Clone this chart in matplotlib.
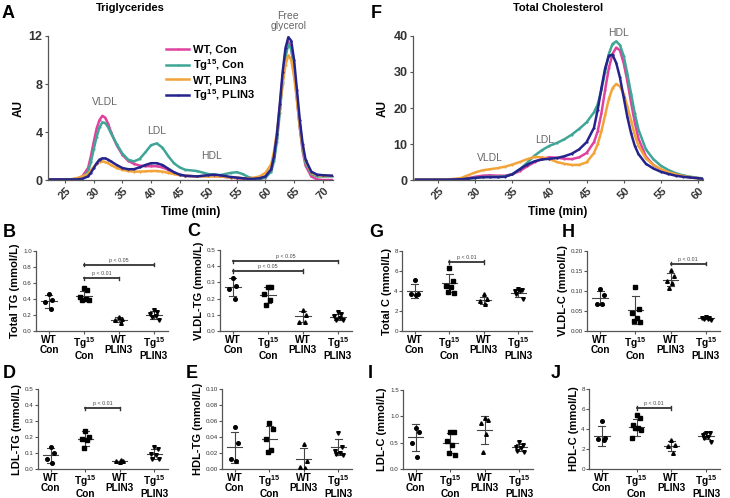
"""Multi-panel lipoprotein figure: FPLC traces (A, F) and per-group dot plots (B-E, G-J)."""

import matplotlib

matplotlib.use("Agg")
import matplotlib.pyplot as plt

plt.rcParams["font.family"] = ["Liberation Sans", "DejaVu Sans"]
plt.rcParams["mathtext.fontset"] = "custom"
plt.rcParams["mathtext.rm"] = "Liberation Sans:bold"
plt.rcParams["mathtext.bf"] = "Liberation Sans:bold"
plt.rcParams["mathtext.default"] = "bf"

# ---------------------------------------------------------------- colours
C_WT_CON = "#e0429f"
C_TG_CON = "#3fa596"
C_WT_PL = "#f2a33a"
C_TG_PL = "#25248c"
AX_GREY = "#555555"

GROUPS = ["WT, Con", "Tg$^{15}$, Con", "WT, PLIN3", "Tg$^{15}$, PLIN3"]
CAT_LABELS = ["WT\nCon", "Tg$^{15}$\nCon", "WT\nPLIN3", "Tg$^{15}$\nPLIN3"]

# ---------------------------------------------------------------- A: triglyceride FPLC
T_A = [22, 24, 26, 27, 28, 29, 29.5, 30, 30.5, 31, 31.5, 32, 32.5, 33, 34, 35, 36, 37,
       38, 39, 40, 41, 42, 43, 44, 45, 46, 48, 50, 51, 52, 54, 55, 56, 57, 58, 59, 60,
       61, 61.5, 62, 62.5, 63, 63.5, 64, 64.5, 65, 65.5, 66, 66.5, 67, 68, 69, 70, 72]
TG_WT_CON = [0.05, 0.05, 0.05, 0.1, 0.3, 1.0, 2.0, 3.2, 4.3, 5.0, 5.35, 5.2, 4.7, 4.0,
             2.9, 2.1, 1.6, 1.35, 1.2, 1.15, 1.15, 1.15, 1.05, 0.85, 0.6, 0.45, 0.35,
             0.3, 0.35, 0.35, 0.3, 0.2, 0.15, 0.1, 0.08, 0.08, 0.1, 0.2, 0.8, 1.8, 3.5,
             6.0, 8.6, 10.7, 11.5, 11.0, 9.3, 6.8, 4.3, 2.4, 1.2, 0.3, 0.05, 0.0, 0.0]
TG_TG_CON = [0.05, 0.05, 0.05, 0.1, 0.2, 0.7, 1.5, 2.6, 3.6, 4.4, 4.8, 4.75, 4.4, 3.9,
             3.0, 2.2, 1.7, 1.55, 1.75, 2.3, 2.9, 3.05, 2.7, 2.0, 1.4, 1.05, 0.85, 0.75,
             0.5, 0.45, 0.4, 0.6, 0.65, 0.5, 0.25, 0.1, 0.1, 0.2, 0.7, 1.6, 3.2, 5.6,
             8.2, 10.3, 11.3, 10.9, 9.3, 6.9, 4.5, 2.6, 1.4, 0.5, 0.3, 0.3, 0.3]
TG_WT_PL = [0.05, 0.05, 0.05, 0.15, 0.3, 0.5, 0.8, 1.1, 1.35, 1.5, 1.55, 1.5, 1.4, 1.25,
            1.0, 0.85, 0.75, 0.7, 0.7, 0.72, 0.75, 0.75, 0.7, 0.6, 0.5, 0.4, 0.35, 0.3,
            0.3, 0.3, 0.3, 0.2, 0.2, 0.15, 0.15, 0.2, 0.3, 0.6, 1.3, 2.4, 4.0, 6.0, 8.0,
            9.6, 10.4, 10.0, 8.6, 6.6, 4.5, 2.8, 1.6, 0.6, 0.4, 0.35, 0.35]
TG_TG_PL = [0.05, 0.05, 0.05, 0.05, 0.1, 0.3, 0.6, 1.0, 1.4, 1.7, 1.8, 1.8, 1.7, 1.55,
            1.25, 1.0, 0.9, 0.9, 1.05, 1.25, 1.4, 1.4, 1.25, 0.95, 0.65, 0.45, 0.35, 0.3,
            0.4, 0.45, 0.4, 0.25, 0.2, 0.15, 0.1, 0.1, 0.15, 0.3, 0.9, 2.0, 3.8, 6.3,
            9.0, 11.0, 11.9, 11.6, 10.0, 7.5, 5.0, 3.0, 1.7, 0.7, 0.45, 0.4, 0.35]

# ---------------------------------------------------------------- F: cholesterol FPLC
T_F = [22, 24, 26, 28, 29, 30, 31, 32, 33, 34, 35, 36, 37, 38, 39, 40, 41, 42, 43, 44,
       45, 46, 46.5, 47, 47.5, 48, 48.5, 49, 49.5, 50, 50.5, 51, 51.5, 52, 53, 54, 55,
       56, 57, 58, 59, 60, 60.5]
TC_WT_CON = [0.1, 0.1, 0.1, 0.2, 0.5, 0.9, 1.2, 1.3, 1.2, 1.2, 1.6, 2.5, 3.8, 5.0, 5.9,
             6.3, 6.2, 5.9, 5.8, 6.3, 7.5, 10.5, 13.5, 18.5, 25.0, 31.0, 35.0, 36.8,
             36.0, 32.5, 27.5, 21.5, 16.0, 11.5, 6.5, 4.2, 2.9, 2.0, 1.4, 1.0, 0.7, 0.5,
             0.4]
TC_TG_CON = [0.1, 0.1, 0.1, 0.2, 0.4, 0.6, 0.8, 0.9, 0.9, 1.0, 1.6, 3.0, 4.8, 6.8, 8.3,
             9.5, 10.3, 11.3, 12.6, 14.2, 16.0, 18.8, 21.0, 25.0, 30.0, 35.0, 37.8,
             38.5, 37.5, 34.5, 29.5, 24.0, 18.5, 14.0, 8.5, 5.8, 4.0, 2.8, 1.9, 1.3, 0.9,
             0.6, 0.5]
TC_WT_PL = [0.1, 0.1, 0.1, 0.5, 1.3, 2.1, 2.7, 3.0, 3.3, 3.7, 4.3, 5.0, 5.8, 6.4, 6.3,
            5.8, 5.0, 4.5, 4.2, 4.2, 4.9, 7.5, 10.0, 13.5, 18.0, 22.5, 25.5, 26.7, 26.0,
            24.0, 20.5, 16.5, 12.5, 9.5, 6.0, 4.2, 3.0, 2.2, 1.6, 1.1, 0.8, 0.5, 0.4]
TC_TG_PL = [0.1, 0.1, 0.1, 0.2, 0.4, 0.6, 0.8, 0.8, 0.8, 0.9, 1.6, 3.0, 4.3, 5.2, 5.7,
            5.9, 6.1, 6.6, 7.3, 8.5, 10.5, 14.5, 19.5, 25.5, 31.0, 34.5, 34.8, 32.5,
            28.5, 23.0, 17.5, 13.0, 9.5, 7.2, 4.5, 3.2, 2.3, 1.7, 1.2, 0.9, 0.7, 0.5, 0.4]

# ---------------------------------------------------------------- dot plots
# per panel: points per group, group mean, group SD
B_PTS = [[0.46, 0.39, 0.36, 0.27], [0.54, 0.51, 0.42, 0.40, 0.39, 0.39],
         [0.18, 0.15, 0.14, 0.10], [0.26, 0.24, 0.21, 0.19, 0.17, 0.14]]
B_MEAN = [0.37, 0.44, 0.14, 0.20]
B_SD = [0.08, 0.06, 0.03, 0.045]

C_PTS = [[0.33, 0.28, 0.26, 0.20], [0.27, 0.27, 0.23, 0.19, 0.16],
         [0.13, 0.10, 0.055, 0.055], [0.12, 0.105, 0.095, 0.08, 0.07, 0.07]]
C_MEAN = [0.27, 0.22, 0.09, 0.085]
C_SD = [0.055, 0.05, 0.035, 0.02]

D_PTS = [[0.14, 0.10, 0.065, 0.04], [0.24, 0.20, 0.19, 0.18, 0.13],
         [0.045, 0.047, 0.048, 0.055], [0.14, 0.125, 0.095, 0.085, 0.065, 0.06]]
D_MEAN = [0.085, 0.19, 0.048, 0.095]
D_SD = [0.045, 0.045, 0.005, 0.03]

E_PTS = [[0.053, 0.032, 0.013, 0.010], [0.058, 0.050, 0.038, 0.024, 0.021],
         [0.031, 0.010, 0.002, 0.001], [0.045, 0.027, 0.023, 0.020, 0.019, 0.018]]
E_MEAN = [0.027, 0.038, 0.012, 0.027]
E_SD = [0.019, 0.016, 0.014, 0.010]

G_PTS = [[5.1, 3.7, 3.7, 3.6], [6.3, 5.0, 4.5, 4.4, 3.9, 3.8],
         [3.7, 3.2, 3.0, 2.7], [4.2, 4.15, 4.0, 4.0, 3.7, 3.2]]
G_MEAN = [4.0, 4.77, 3.1, 3.8]
G_SD = [0.7, 0.9, 0.35, 0.4]

H_PTS = [[0.105, 0.091, 0.067, 0.067], [0.111, 0.056, 0.044, 0.033, 0.024, 0.022],
         [0.153, 0.138, 0.125, 0.120, 0.108], [0.035, 0.033, 0.032, 0.031, 0.030, 0.028]]
H_MEAN = [0.083, 0.052, 0.128, 0.032]
H_SD = [0.018, 0.035, 0.016, 0.003]

I_PTS = [[0.78, 0.70, 0.50, 0.22], [0.71, 0.71, 0.53, 0.45, 0.30, 0.27],
         [0.97, 0.93, 0.87, 0.67, 0.33], [0.52, 0.45, 0.42, 0.39, 0.35, 0.33]]
I_MEAN = [0.60, 0.50, 0.74, 0.41]
I_SD = [0.26, 0.19, 0.26, 0.06]

J_PTS = [[4.8, 3.1, 3.0, 2.9], [5.4, 5.1, 4.4, 4.1, 4.1, 3.9, 3.1],
         [2.9, 2.45, 2.3, 1.65], [3.65, 3.6, 3.4, 3.2, 3.1, 2.7]]
J_MEAN = [3.3, 4.2, 2.35, 3.35]
J_SD = [1.0, 0.85, 0.5, 0.35]

MARKERS = ["o", "s", "^", "v"]
MSIZE = [2.6, 3.2, 2.6, 2.6]
JITTER = [0.0, 0.1, -0.1, 0.05, -0.05, 0.14, -0.14]

W, H = 730, 498
fig = plt.figure(figsize=(W / 100, H / 100), dpi=100)


def px_axes(left, top, right, bottom):
    return fig.add_axes([left / W, 1 - bottom / H, (right - left) / W, (bottom - top) / H])


def style_axes(ax, size):
    for s in ("top", "right"):
        ax.spines[s].set_visible(False)
    for s in ("left", "bottom"):
        ax.spines[s].set_color(AX_GREY)
        ax.spines[s].set_linewidth(0.9)
    ax.tick_params(direction="out", length=2.5, width=0.8, color=AX_GREY,
                   labelsize=size, labelcolor="#333333", pad=1.5)


def chrom_panel(ax, t, series, xlim, ylim, yticks, xticks):
    colors = [C_WT_CON, C_TG_CON, C_WT_PL, C_TG_PL]
    for y, c, lab in zip(series, colors, GROUPS):
        ax.plot(t, y, color=c, lw=1.8, marker=".", ms=1.2, label=lab)
    ax.set_xlim(*xlim)
    ax.set_ylim(*ylim)
    ax.set_yticks(yticks)
    ax.set_xticks(xticks)
    style_axes(ax, 9)
    for lab in ax.get_xticklabels():
        lab.set_rotation(45)
        lab.set_fontweight("bold")
        lab.set_fontsize(8)
    for lab in ax.get_yticklabels():
        lab.set_fontweight("bold")
    ax.set_ylabel("AU", fontsize=8.5, fontweight="bold", labelpad=3)
    ax.set_xlabel("Time (min)", fontsize=8.5, fontweight="bold", labelpad=3)


def dot_panel(ax, pts, means, sds, ylim, yticks, fmt, ylabel, brackets=()):
    for i, (vals, m, sd) in enumerate(zip(pts, means, sds)):
        xs = [i + JITTER[k] for k in range(len(vals))]
        ax.plot(xs, vals, ls="none", marker=MARKERS[i], ms=MSIZE[i], color="black",
                zorder=3)
        ax.plot([i - 0.22, i + 0.22], [m, m], color="#444444", lw=0.8, zorder=2)
        ax.plot([i, i], [m - sd, m + sd], color="#444444", lw=0.8, zorder=2)
        for v in (m - sd, m + sd):
            ax.plot([i - 0.1, i + 0.1], [v, v], color="#444444", lw=0.8, zorder=2)
    span = ylim[1] - ylim[0]
    for x1, x2, y, txt in brackets:
        ax.plot([x1, x2], [y, y], color="#333333", lw=1.3)
        for x in (x1, x2):
            ax.plot([x, x], [y - 0.02 * span, y + 0.02 * span], color="#333333", lw=1.0)
        ax.text((x1 + x2) / 2, y + 0.025 * span, txt, fontsize=3.8, ha="center",
                va="bottom", color="#444444")
    ax.set_xlim(-0.37, 3.4)
    ax.set_ylim(*ylim)
    ax.set_yticks(yticks)
    ax.set_yticklabels([fmt.format(v) for v in yticks])
    ax.set_xticks(range(4))
    ax.set_xticklabels(CAT_LABELS)
    style_axes(ax, 4.5)
    ax.tick_params(axis="y", length=2, pad=1)
    ax.tick_params(axis="x", length=2, labelsize=7.3, labelcolor="black", pad=1)
    for lab in ax.get_xticklabels():
        lab.set_fontweight("bold")
        lab.set_linespacing(0.95)
    ax.set_ylabel(ylabel, fontsize=8, fontweight="bold", labelpad=2)


# ---------------------------------------------------------------- panel A
axA = px_axes(48, 36, 333, 180)
chrom_panel(axA, T_A, [TG_WT_CON, TG_TG_CON, TG_WT_PL, TG_TG_PL], (22, 71.8), (0, 12),
            [0, 4, 8, 12], list(range(25, 75, 5)))
leg = axA.legend(loc="upper left", bbox_to_anchor=(0.4, 0.97), frameon=False,
                 fontsize=8, handlelength=2.0, handletextpad=0.4, labelspacing=0.2,
                 borderaxespad=0)
for txt in leg.get_texts():
    txt.set_fontweight("bold")
for lbl, x, y in [("VLDL", 32, 6.1), ("LDL", 41, 3.7), ("HDL", 50.5, 1.6),
                  ("Free\nglycerol", 64, 12.4)]:
    axA.text(x, y, lbl, fontsize=7.5, color="#666666", ha="center", va="bottom",
             linespacing=1.0)
fig.text(130 / W, 1 - 8 / H, "Triglycerides", fontsize=8, fontweight="bold",
         ha="center", va="center")

# ---------------------------------------------------------------- panel F
axF = px_axes(413, 36, 703, 180)
chrom_panel(axF, T_F, [TC_WT_CON, TC_TG_CON, TC_WT_PL, TC_TG_PL], (21.6, 60.7), (0, 40),
            [0, 10, 20, 30, 40], list(range(25, 65, 5)))
for lbl, x, y in [("VLDL", 32, 4.6), ("LDL", 39.3, 9.6), ("HDL", 49.3, 39.5)]:
    axF.text(x, y, lbl, fontsize=7.5, color="#666666", ha="center", va="bottom")
fig.text(558 / W, 1 - 8 / H, "Total Cholesterol", fontsize=8, fontweight="bold",
         ha="center", va="center")

# ---------------------------------------------------------------- dot panels
axB = px_axes(36, 251, 168, 331)
dot_panel(axB, B_PTS, B_MEAN, B_SD, (0, 1.0), [0, 0.2, 0.4, 0.6, 0.8, 1.0], "{:.1f}",
          "Total TG (mmol/L)", [(1, 2, 0.66, "p < 0.01"), (1, 3, 0.83, "p < 0.05")])
axC = px_axes(220, 250, 352, 331)
dot_panel(axC, C_PTS, C_MEAN, C_SD, (0, 0.5), [0, 0.1, 0.2, 0.3, 0.4, 0.5], "{:.1f}",
          "VLDL-TG (mmol/L)", [(0, 2, 0.37, "p < 0.05"), (0, 3, 0.43, "p < 0.05")])
axD = px_axes(38, 389, 168, 469)
dot_panel(axD, D_PTS, D_MEAN, D_SD, (0, 0.5), [0, 0.1, 0.2, 0.3, 0.4, 0.5], "{:.1f}",
          "LDL-TG (mmol/L)", [(1, 2, 0.38, "p < 0.01")])
axE = px_axes(222, 389, 352, 469)
dot_panel(axE, E_PTS, E_MEAN, E_SD, (0, 0.10), [0, 0.02, 0.04, 0.06, 0.08, 0.10],
          "{:.2f}", "HDL-TG (mmol/L)")
axG = px_axes(402, 251, 532, 331)
dot_panel(axG, G_PTS, G_MEAN, G_SD, (0, 8), [0, 2, 4, 6, 8], "{:.0f}",
          "Total C (mmol/L)", [(1, 2, 6.9, "p < 0.01")])
axH = px_axes(587, 251, 720, 331)
dot_panel(axH, H_PTS, H_MEAN, H_SD, (0, 0.20), [0, 0.05, 0.10, 0.15, 0.20], "{:.2f}",
          "VLDL-C (mmol/L)", [(2, 3, 0.168, "p < 0.01")])
axI = px_axes(403, 390, 533, 469)
dot_panel(axI, I_PTS, I_MEAN, I_SD, (0, 1.5), [0, 0.5, 1.0, 1.5], "{:.1f}",
          "LDL-C (mmol/L)")
axJ = px_axes(589, 389, 720, 469)
dot_panel(axJ, J_PTS, J_MEAN, J_SD, (0, 8), [0, 2, 4, 6, 8], "{:.0f}",
          "HDL-C (mmol/L)", [(1, 2, 6.1, "p < 0.01")])

# ---------------------------------------------------------------- panel letters
for letter, x, y in [("A", 8, 14), ("F", 376, 14), ("B", 9, 232), ("C", 194, 231),
                     ("G", 376, 232), ("H", 568, 232), ("D", 9, 373), ("E", 192, 373),
                     ("I", 370, 373), ("J", 556, 373)]:
    fig.text(x / W, 1 - y / H, letter, fontsize=13, fontweight="bold", ha="center",
             va="center")

fig.savefig("out.png", dpi=100)
